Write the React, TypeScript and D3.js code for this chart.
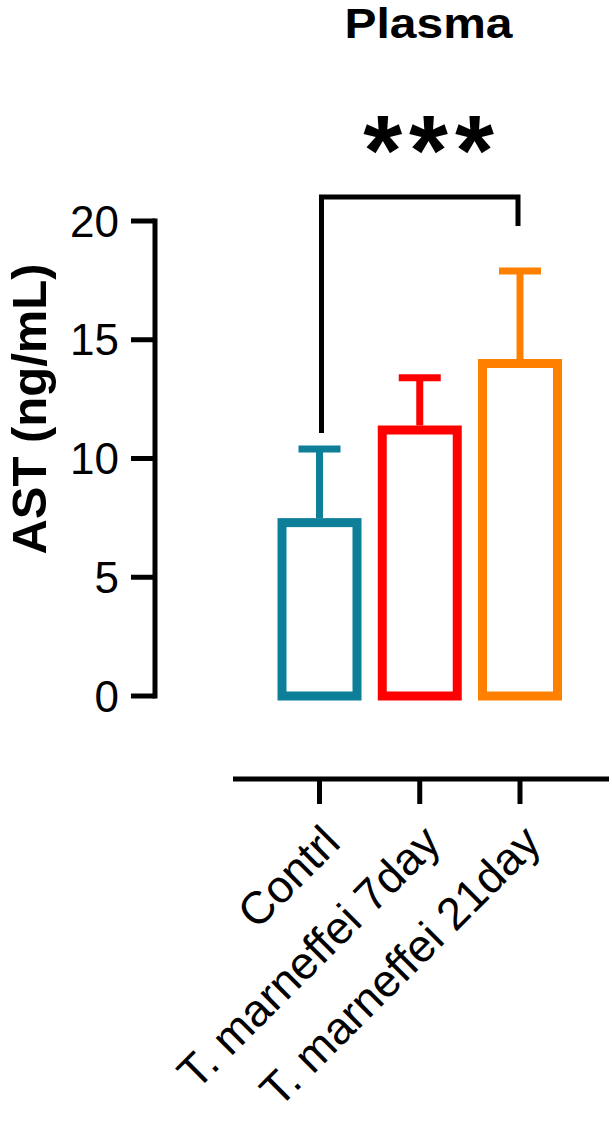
import React from 'react';
import * as d3 from 'd3';

const categories = ['Contrl', 'T. marneffei 7day', 'T. marneffei 21day'];
const means = [7.3, 11.2, 14.0];
const upperErrors = [10.4, 13.4, 17.9];
const colors = ['#0d7f99', '#ff0000', '#ff8000'];
const yTicks = [0, 5, 10, 15, 20];
const title = 'Plasma';
const yLabel = 'AST (ng/mL)';
const sigLabel = '***';
const sigPair = [0, 2];

const FONT = '"Liberation Sans", Arial, Helvetica, sans-serif';

export default function App() {
  const W = 612;
  const H = 1121;
  const y = d3.scaleLinear().domain([0, 20]).range([696, 221]);
  const x = d3.scalePoint<string>().domain(categories).range([319.5, 520]);
  const barW = 75;
  const capHalf = 21;
  const axisX = 155;
  const xAxisY = 779;

  const sigA = x(categories[sigPair[0]])! + 2;
  const sigB = x(categories[sigPair[1]])! - 2;
  const sigY = 197;

  return (
    <svg
      width={W}
      height={H}
      viewBox={`0 0 ${W} ${H}`}
      style={{ position: 'absolute', left: 0, top: 0, display: 'block', background: '#fff' }}
      fontFamily={FONT}
    >
      <rect x={0} y={0} width={W} height={H} fill="#fff" />
      {/* title */}
      <text
        x={428.5}
        y={38}
        textAnchor="middle"
        fontSize={42}
        fontWeight="bold"
        fill="#000"
        textLength={168}
        lengthAdjust="spacingAndGlyphs"
      >
        {title}
      </text>

      {/* y axis */}
      <line x1={axisX} x2={axisX} y1={y(20) - 2.5} y2={y(0) + 2.5} stroke="#000" strokeWidth={5} />
      {yTicks.map((t) => (
        <g key={t}>
          <line x1={131} x2={axisX} y1={y(t)} y2={y(t)} stroke="#000" strokeWidth={5} />
          <text x={119} y={y(t)} textAnchor="end" dominantBaseline="central" fontSize={44} fill="#000">
            {t}
          </text>
        </g>
      ))}
      <text
        transform={`translate(46, 409) rotate(-90)`}
        textAnchor="middle"
        fontSize={49}
        fontWeight="bold"
        fill="#000"
      >
        {yLabel}
      </text>

      {/* bars */}
      {categories.map((c, i) => {
        const cx = x(c)!;
        return (
          <g key={c}>
            <line x1={cx} x2={cx} y1={y(means[i]) - 4.5} y2={y(upperErrors[i])} stroke={colors[i]} strokeWidth={7} />
            <line
              x1={cx - capHalf}
              x2={cx + capHalf}
              y1={y(upperErrors[i])}
              y2={y(upperErrors[i])}
              stroke={colors[i]}
              strokeWidth={7}
            />
            <rect
              x={cx - barW / 2}
              y={y(means[i])}
              width={barW}
              height={y(0) - y(means[i])}
              fill="#fff"
              stroke={colors[i]}
              strokeWidth={9}
            />
          </g>
        );
      })}

      {/* significance bracket */}
      <path
        d={`M${sigA},433 V${sigY} H${sigB} V226`}
        fill="none"
        stroke="#000"
        strokeWidth={5}
      />
      <text
        x={432}
        y={185}
        textAnchor="middle"
        fontSize={100}
        fontWeight="bold"
        letterSpacing={7}
        fill="#000"
      >
        {sigLabel}
      </text>

      {/* x axis */}
      <line x1={233} x2={609} y1={xAxisY} y2={xAxisY} stroke="#000" strokeWidth={5} />
      {categories.map((c) => (
        <g key={c}>
          <line x1={x(c)!} x2={x(c)!} y1={xAxisY} y2={804} stroke="#000" strokeWidth={5} />
          <text
            transform={`translate(${x(c)! + 23}, 845) rotate(-45)`}
            textAnchor="end"
            fontSize={45.5}
            fill="#000"
          >
            {c}
          </text>
        </g>
      ))}
    </svg>
  );
}
